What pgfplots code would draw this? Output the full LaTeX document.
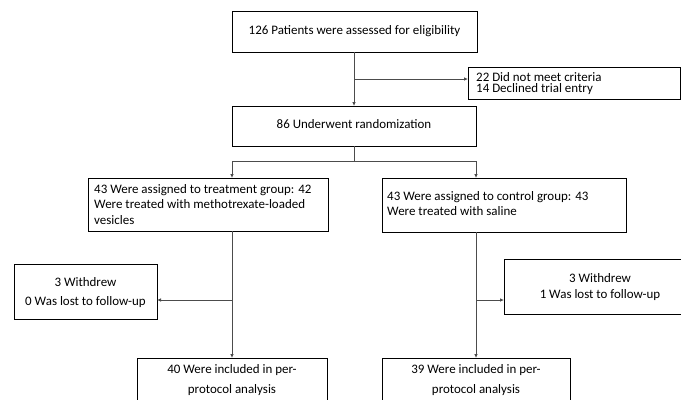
\documentclass[border=0pt]{standalone}
\usepackage{pgfplots}
\pgfplotsset{compat=1.18}
\usetikzlibrary{arrows.meta}
\usepackage{fontspec}
\setmainfont{Carlito}
\tikzset{
  box/.style={black, line width=0.8bp, line cap=rect, line join=miter},
  seg/.style={black!70, line width=0.8bp},
  conn/.style={black!70, line width=0.8bp, -{Latex[length=4bp,width=3.6bp]}},
  txt/.style={font=\fontsize{13}{15.5}\selectfont, inner sep=0pt, anchor=mid},
  txtl/.style={txt, anchor=mid west},
}
\begin{document}
\begin{tikzpicture}
\begin{axis}[
  width=681bp, height=400bp, scale only axis,
  xmin=0, xmax=681, ymin=0, ymax=400, y dir=reverse,
  hide axis, clip=true,
]
% bounding frame (invisible)
\addplot[draw=none] coordinates {(0,0) (681,400)};
% boxes
\addplot[box] coordinates {(232,11) (477,11) (477,52) (232,52) (232,11)};
\addplot[box] coordinates {(468,67) (680,67) (680,99) (468,99) (468,67)};
\addplot[box] coordinates {(232,106) (476,106) (476,146) (232,146) (232,106)};
\addplot[box] coordinates {(88,178) (328,178) (328,231) (88,231) (88,178)};
\addplot[box] coordinates {(382,178) (626,178) (626,232) (382,232) (382,178)};
\addplot[box] coordinates {(14,264) (157,264) (157,319) (14,319) (14,264)};
\addplot[box] coordinates {(504,259) (700,259) (700,314) (504,314) (504,259)};
\addplot[box] coordinates {(137,358) (327,358) (327,420) (137,420) (137,358)};
\addplot[box] coordinates {(382,358) (570,358) (570,420) (382,420) (382,358)};
% connectors
\addplot[conn] coordinates {(354,52) (354,106)};
\addplot[conn] coordinates {(354,79) (468,79)};
\addplot[seg] coordinates {(354,146) (354,161)};
\addplot[seg] coordinates {(232,161) (476,161)};
\addplot[conn] coordinates {(232,161) (232,178)};
\addplot[conn] coordinates {(476,161) (476,178)};
\addplot[conn] coordinates {(232,231) (232,358)};
\addplot[conn] coordinates {(232,300) (157,300)};
\addplot[conn] coordinates {(476,232) (476,358)};
\addplot[conn] coordinates {(476,300) (504,300)};
% texts
\node[txt] at (axis cs:354.5,32) {126 Patients were assessed for eligibility};
\node[txtl] at (axis cs:476,79) {22 Did not meet criteria};
\node[txtl] at (axis cs:476,90.5) {14 Declined trial entry};
\node[txt] at (axis cs:354,126.5) {86 Underwent randomization};
\node[txtl] at (axis cs:94,191) {43 Were assigned to treatment group: 42};
\node[txtl] at (axis cs:94,206.5) {Were treated with methotrexate-loaded};
\node[txtl] at (axis cs:94,222) {vesicles};
\node[txtl] at (axis cs:387,198) {43 Were assigned to control group: 43};
\node[txtl] at (axis cs:387,213.5) {Were treated with saline};
\node[txt] at (axis cs:85.5,284) {3 Withdrew};
\node[txt] at (axis cs:85.5,303) {0 Was lost to follow-up};
\node[txt] at (axis cs:600,280) {3 Withdrew};
\node[txt] at (axis cs:600,296) {1 Was lost to follow-up};
\node[txt] at (axis cs:232,371) {40 Were included in per-};
\node[txt] at (axis cs:232,391) {protocol analysis};
\node[txt] at (axis cs:476,371) {39 Were included in per-};
\node[txt] at (axis cs:476,391) {protocol analysis};
\end{axis}
\end{tikzpicture}
\end{document}
